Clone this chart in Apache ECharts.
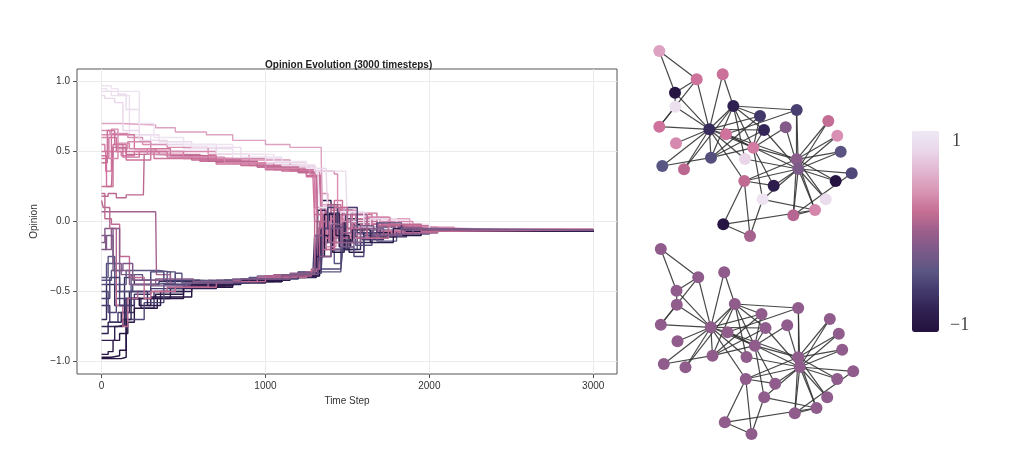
<!DOCTYPE html>
<html lang="en">
  <head>
    <meta charset="UTF-8" />
    <title>Opinion Evolution</title>
    <script src="https://cdn.jsdelivr.net/npm/echarts@6.0.0/dist/echarts.min.js"></script>
    <style>
      html, body { margin: 0; padding: 0; background: #fff; }
    </style>
  </head>
  <body>
    <div id="main" style="width: 1024px; height: 470px"></div>
    <script>
      // axis ticks
      var timeTicks = [0, 1000, 2000, 3000];
      var opinionTicks = [-1, -0.5, 0, 0.5, 1];

      // colour bar, bottom (-1) to top (+1)
      var colorStops = [
        "#24123f", "#2e2050", "#42386a", "#5a5683", "#7b5a88", "#9b5e8b",
        "#c66f94", "#d895b4", "#e2b6d0", "#e9d6e9", "#eee9f5"
      ];
      // colours used for nodes and lines, at these opinion values
      var toneValues = [-1, -0.8, -0.6, -0.4, -0.2, 0, 0.2, 0.5, 0.65, 0.75, 0.9, 1];
      var toneColors = ["#24123f", "#2e2050", "#42386a", "#5a5683", "#7b5a88", "#985d8c",
        "#c06a92", "#cf739c", "#d88fb3", "#e2b3cf", "#e9d6e9", "#eee9f5"];

      var consensusOpinion = -0.06;

      // node layout (karate club order), same layout for both networks
      var nodeX = [69.3, 93.3, 113.3, 71, 35.3, 56.7, 35, 120, 86, 145.7, 19.3, 36, 22.3, 124, 188.3, 197.3, 19.3,
        82.7, 200.7, 105, 195.7, 44, 185.7, 175, 110, 83.3, 211.7, 122.7, 133.7, 153.3, 156.7, 104.3, 156.7, 158.3];
      var nodeY = [89.3, 66, 107.7, 117.7, 66.7, 39.3, 52.7, 76, 94.3, 87.3, 86.7, 103.3, 126, 90, 81, 95.7, 11,
        34.3, 111.7, 119, 141, 129.3, 159.3, 170, 196, 184.3, 133.3, 159.3, 145.7, 175.3, 70, 141, 119.3, 129];

      var edges = [
        [0,1],[0,2],[0,3],[0,4],[0,5],[0,6],[0,7],[0,8],[0,10],[0,11],[0,12],[0,13],[0,17],[0,19],[0,21],[0,31],
        [1,2],[1,3],[1,7],[1,13],[1,17],[1,19],[1,21],[1,30],
        [2,3],[2,7],[2,8],[2,9],[2,13],[2,27],[2,28],[2,32],
        [3,7],[3,12],[3,13],[4,6],[4,10],[5,6],[5,10],[5,16],[6,16],
        [8,30],[8,32],[8,33],[9,33],[13,33],[14,32],[14,33],[15,32],[15,33],
        [18,32],[18,33],[19,33],[20,32],[20,33],[22,32],[22,33],
        [23,25],[23,27],[23,29],[23,32],[23,33],[24,25],[24,27],[24,31],[25,31],
        [26,29],[26,33],[27,33],[28,31],[28,33],[29,32],[29,33],[30,32],[30,33],
        [31,32],[31,33],[32,33]
      ];

      // opinion of each node over time: [timestep, opinion] where it changes
      var opinionPaths = [
        [[0,-0.7],[30,-0.45],[80,-0.6],[140,-0.4],[200,-0.45],[350,-0.43],[600,-0.44],[850,-0.41],[1100,-0.38],[1300,-0.35],[1320,-0.1],[1360,0.1],[1420,-0.2],[1500,0.02],[1600,-0.1],[1750,-0.03],[1950,-0.07],[2150,-0.06],[3000,-0.06]],
        [[0,-0.8],[40,-0.72],[120,-0.65],[170,-0.5],[280,-0.55],[420,-0.48],[700,-0.44],[1000,-0.4],[1250,-0.36],[1330,-0.34],[1340,0.15],[1400,-0.05],[1450,0.08],[1530,-0.15],[1650,-0.04],[1820,-0.08],[2000,-0.06],[3000,-0.06]],
        [[0,0.55],[20,0.5],[120,0.47],[200,0.5],[350,0.48],[600,0.44],[900,0.4],[1150,0.36],[1280,0.34],[1300,0.1],[1360,-0.12],[1420,0.02],[1480,-0.08],[1600,-0.02],[1750,-0.07],[1950,-0.05],[2150,-0.06],[3000,-0.06]],
        [[0,-0.45],[30,-0.3],[90,-0.5],[180,-0.38],[250,-0.42],[400,-0.36],[450,-0.45],[700,-0.42],[1000,-0.39],[1300,-0.35],[1310,-0.2],[1370,0.0],[1430,-0.15],[1500,-0.05],[1650,-0.1],[1800,-0.05],[2000,-0.06],[3000,-0.06]],
        [[0,0.95],[30,0.93],[60,0.9],[170,0.62],[300,0.55],[500,0.52],[800,0.45],[1100,0.39],[1300,0.34],[1345,0.05],[1400,-0.05],[1500,0.04],[1620,-0.04],[1800,-0.03],[2000,-0.06],[3000,-0.06]],
        [[0,0.45],[40,0.6],[90,0.5],[150,0.44],[300,0.52],[420,0.47],[700,0.42],[1000,0.38],[1250,0.33],[1310,0.3],[1320,-0.15],[1380,0.1],[1450,-0.1],[1550,0.02],[1700,-0.09],[1900,-0.05],[2100,-0.06],[3000,-0.06]],
        [[0,-0.97],[60,-0.96],[110,-0.92],[150,-0.6],[200,-0.55],[330,-0.52],[500,-0.46],[800,-0.43],[1100,-0.39],[1320,-0.35],[1330,-0.15],[1380,0.05],[1450,-0.18],[1520,-0.02],[1640,-0.11],[1800,-0.05],[2000,-0.065],[3000,-0.06]],
        [[0,-0.6],[50,-0.72],[100,-0.65],[200,-0.52],[300,-0.48],[500,-0.46],[750,-0.42],[1050,-0.39],[1290,-0.35],[1300,-0.1],[1350,0.05],[1410,-0.2],[1480,-0.05],[1590,-0.13],[1720,-0.04],[1900,-0.07],[3000,-0.06]],
        [[0,0.5],[25,0.36],[60,0.62],[200,0.52],[330,0.5],[500,0.45],[800,0.42],[1050,0.37],[1300,0.33],[1340,0.32],[1350,-0.2],[1420,0.15],[1470,-0.05],[1560,0.06],[1680,-0.1],[1850,-0.04],[2050,-0.07],[2200,-0.06],[3000,-0.06]],
        [[0,-0.15],[20,-0.05],[70,-0.3],[120,-0.38],[200,-0.42],[400,-0.45],[650,-0.42],[950,-0.39],[1200,-0.36],[1310,-0.35],[1320,-0.05],[1400,-0.2],[1470,0.0],[1550,-0.1],[1700,-0.05],[1900,-0.065],[3000,-0.06]],
        [[0,0.47],[30,0.25],[70,0.55],[150,0.5],[320,0.45],[600,0.43],[950,0.39],[1200,0.35],[1290,0.31],[1300,0.0],[1350,-0.25],[1400,0.05],[1500,-0.1],[1650,-0.02],[1800,-0.08],[2000,-0.055],[3000,-0.06]],
        [[0,0.62],[60,0.66],[100,0.52],[160,0.57],[300,0.5],[450,0.5],[700,0.45],[1000,0.4],[1200,0.36],[1310,0.35],[1330,0.2],[1380,-0.1],[1450,0.08],[1550,-0.06],[1700,0.0],[1900,-0.07],[2100,-0.06],[3000,-0.06]],
        [[0,-0.4],[40,-0.25],[80,-0.45],[150,-0.35],[350,-0.36],[420,-0.42],[600,-0.43],[900,-0.4],[1200,-0.36],[1460,-0.34],[1470,-0.2],[1560,-0.1],[1680,-0.14],[1800,-0.07],[2000,-0.06],[3000,-0.06]],
        [[0,-0.75],[100,-0.74],[140,-0.55],[240,-0.62],[320,-0.5],[500,-0.47],[750,-0.43],[1050,-0.4],[1310,-0.36],[1320,0.08],[1370,-0.12],[1430,0.05],[1490,-0.2],[1580,-0.05],[1700,-0.11],[1860,-0.06],[3000,-0.06]],
        [[0,0.25],[60,0.24],[70,0.53],[150,0.48],[300,0.47],[550,0.44],[850,0.4],[1100,0.36],[1290,0.33],[1335,0.31],[1340,-0.12],[1400,0.02],[1480,-0.1],[1580,-0.02],[1720,-0.08],[1900,-0.055],[3000,-0.06]],
        [[0,0.65],[50,0.63],[160,0.6],[250,0.55],[400,0.53],[650,0.48],[900,0.44],[1150,0.4],[1300,0.36],[1420,0.34],[1440,0.0],[1500,-0.08],[1600,0.03],[1750,-0.05],[1950,-0.06],[3000,-0.06]],
        [[0,0.7],[120,0.69],[330,0.67],[450,0.64],[640,0.62],[800,0.58],[1000,0.55],[1150,0.53],[1340,0.49],[1345,0.12],[1400,-0.08],[1480,0.1],[1560,-0.05],[1700,0.02],[1880,-0.06],[3000,-0.06]],
        [[0,0.42],[35,0.65],[80,0.55],[130,0.46],[230,0.5],[400,0.46],[700,0.41],[1000,0.37],[1250,0.32],[1330,0.3],[1340,-0.05],[1400,0.12],[1460,-0.15],[1530,0.05],[1650,-0.08],[1800,-0.03],[2000,-0.06],[3000,-0.06]],
        [[0,-0.42],[60,-0.35],[110,-0.5],[190,-0.45],[300,-0.44],[450,-0.37],[490,-0.44],[750,-0.42],[1000,-0.39],[1300,-0.35],[1340,-0.34],[1350,-0.15],[1420,-0.3],[1460,-0.08],[1550,-0.17],[1650,-0.06],[1800,-0.09],[2000,-0.06],[3000,-0.06]],
        [[0,0.9],[20,0.88],[80,0.85],[130,0.65],[230,0.58],[400,0.55],[700,0.48],[1000,0.42],[1250,0.38],[1370,0.36],[1380,0.05],[1430,-0.1],[1520,0.06],[1620,-0.04],[1780,-0.07],[1950,-0.05],[2150,-0.06],[3000,-0.06]],
        [[0,-0.98],[120,-0.97],[150,-0.55],[230,-0.6],[300,-0.54],[550,-0.46],[800,-0.43],[1100,-0.39],[1330,-0.35],[1340,-0.05],[1410,-0.22],[1480,0.0],[1560,-0.12],[1680,-0.04],[1850,-0.07],[3000,-0.06]],
        [[0,0.18],[40,0.2],[90,0.17],[150,0.19],[255,0.2],[260,0.48],[400,0.47],[650,0.43],[950,0.39],[1200,0.35],[1300,0.32],[1315,-0.1],[1370,0.08],[1440,-0.12],[1540,0.0],[1680,-0.07],[1850,-0.05],[2050,-0.06],[3000,-0.06]],
        [[0,0.93],[100,0.91],[150,0.8],[230,0.62],[350,0.57],[550,0.53],[850,0.46],[1100,0.4],[1300,0.36],[1490,0.33],[1500,0.0],[1560,-0.1],[1640,0.02],[1800,-0.05],[2000,-0.06],[3000,-0.06]],
        [[0,0.6],[45,0.45],[100,0.56],[170,0.52],[280,0.48],[500,0.46],[750,0.42],[1000,0.38],[1270,0.34],[1300,0.33],[1310,0.05],[1370,-0.18],[1430,0.0],[1520,-0.12],[1620,0.03],[1760,-0.06],[1950,-0.04],[2150,-0.06],[3000,-0.06]],
        [[0,0.07],[330,0.08],[335,-0.38],[420,-0.45],[550,-0.44],[800,-0.42],[1050,-0.38],[1300,-0.35],[1320,-0.05],[1380,0.12],[1440,-0.08],[1520,0.05],[1620,-0.1],[1780,-0.04],[1950,-0.07],[2100,-0.06],[3000,-0.06]],
        [[0,-0.95],[40,-0.93],[70,-0.85],[110,-0.8],[160,-0.72],[200,-0.62],[340,-0.55],[500,-0.47],[800,-0.43],[1100,-0.39],[1300,-0.35],[1310,-0.25],[1360,0.05],[1430,-0.1],[1510,-0.22],[1600,-0.08],[1760,-0.1],[1950,-0.06],[3000,-0.06]],
        [[0,-0.5],[40,-0.65],[90,-0.55],[150,-0.7],[260,-0.58],[380,-0.45],[600,-0.44],[900,-0.41],[1200,-0.37],[1300,-0.34],[1460,-0.33],[1470,-0.18],[1540,-0.25],[1600,-0.1],[1700,-0.05],[1850,-0.08],[2050,-0.06],[3000,-0.06]],
        [[0,0.97],[60,0.95],[100,0.93],[230,0.7],[320,0.6],[500,0.55],[800,0.48],[1050,0.43],[1250,0.38],[1320,0.34],[1330,0.1],[1390,-0.02],[1460,0.07],[1600,-0.05],[1800,-0.02],[2000,-0.06],[3000,-0.06]],
        [[0,-0.85],[80,-0.75],[130,-0.7],[180,-0.55],[280,-0.6],[360,-0.5],[550,-0.45],[850,-0.42],[1150,-0.38],[1320,-0.35],[1330,-0.1],[1390,0.06],[1450,-0.14],[1530,-0.06],[1640,-0.15],[1780,-0.05],[1960,-0.07],[3000,-0.06]],
        [[0,0.15],[10,0.1],[50,-0.05],[90,-0.6],[130,-0.75],[160,-0.55],[220,-0.5],[400,-0.47],[650,-0.43],[950,-0.4],[1250,-0.36],[1310,-0.34],[1330,0.0],[1390,-0.15],[1460,0.05],[1560,-0.12],[1680,-0.03],[1850,-0.08],[2050,-0.06],[3000,-0.06]],
        [[0,-0.55],[50,-0.4],[110,-0.6],[180,-0.5],[300,-0.36],[380,-0.42],[600,-0.44],[900,-0.41],[1200,-0.37],[1340,-0.33],[1345,-0.05],[1380,0.1],[1440,-0.04],[1500,0.1],[1560,-0.08],[1680,-0.01],[1830,-0.06],[3000,-0.06]],
        [[0,0.2],[20,0.02],[60,-0.02],[110,-0.25],[170,-0.4],[260,-0.55],[300,-0.5],[450,-0.47],[700,-0.43],[1000,-0.39],[1280,-0.34],[1300,0.05],[1350,-0.2],[1420,0.1],[1500,-0.05],[1620,-0.12],[1750,-0.02],[1950,-0.07],[2150,-0.06],[3000,-0.06]],
        [[0,-0.1],[25,-0.2],[60,-0.05],[110,-0.35],[170,-0.45],[330,-0.41],[560,-0.43],[850,-0.41],[1150,-0.37],[1300,-0.34],[1310,-0.1],[1350,-0.25],[1400,-0.02],[1470,-0.15],[1580,-0.05],[1720,-0.09],[1900,-0.06],[3000,-0.06]],
        [[0,-0.2],[30,-0.1],[70,-0.35],[130,-0.3],[190,-0.42],[300,-0.46],[520,-0.44],[800,-0.41],[1100,-0.38],[1320,-0.35],[1330,-0.25],[1400,-0.05],[1460,-0.18],[1540,-0.03],[1660,-0.1],[1830,-0.05],[2020,-0.06],[3000,-0.06]]
      ];

      // colour for an opinion value
      function tone(v) {
        for (var k = 1; k < toneValues.length; k++) {
          if (v <= toneValues[k]) {
            var f = (v - toneValues[k - 1]) / (toneValues[k] - toneValues[k - 1]);
            return echarts.color.lerp(f, [toneColors[k - 1], toneColors[k]]);
          }
        }
        return toneColors[toneColors.length - 1];
      }

      var initOpinion = opinionPaths.map(function (p) {
        return p[0][1];
      });

      var chart = echarts.init(document.getElementById("main"));

      var font = "Liberation Sans";
      var series = [];

      opinionPaths.forEach(function (path, i) {
        series.push({
          type: "line",
          step: "end",
          data: path,
          showSymbol: false,
          silent: true,
          xAxisIndex: 0,
          yAxisIndex: 0,
          lineStyle: { color: tone(initOpinion[i]), width: 1.4 },
        });
      });

      function links() {
        return edges.map(function (e) {
          return { source: e[0], target: e[1] };
        });
      }

      // network coloured by initial opinion
      series.push({
        type: "graph",
        coordinateSystem: "cartesian2d",
        xAxisIndex: 1,
        yAxisIndex: 1,
        silent: true,
        symbolSize: 12,
        data: nodeX.map(function (x, i) {
          return { value: [x, nodeY[i]], itemStyle: { color: tone(initOpinion[i]) } };
        }),
        links: links(),
        lineStyle: { color: "#333", width: 1.2, opacity: 0.9 },
      });

      // network after consensus
      series.push({
        type: "graph",
        coordinateSystem: "cartesian2d",
        xAxisIndex: 2,
        yAxisIndex: 2,
        silent: true,
        symbolSize: 12,
        data: nodeX.map(function (x, i) {
          return { value: [x, nodeY[i]], itemStyle: { color: tone(consensusOpinion) } };
        }),
        links: links(),
        lineStyle: { color: "#333", width: 1.2, opacity: 0.9 },
      });

      // empty series the colour bar is attached to
      series.push({ type: "scatter", data: [], xAxisIndex: 0, yAxisIndex: 0 });

      var netAxis = function (idx, max, inverse) {
        return { gridIndex: idx, type: "value", min: 0, max: max, show: false, inverse: inverse };
      };

      var option = {
        animation: false,
        backgroundColor: "#fff",
        textStyle: { fontFamily: font },
        title: {
          text: "Opinion Evolution (3000 timesteps)",
          left: 260,
          top: 55,
          textStyle: { fontSize: 10, fontWeight: "bold", color: "#222", fontFamily: font },
        },
        grid: [
          { left: 77, top: 69, width: 540, height: 305, show: true, borderColor: "#555", borderWidth: 1 },
          { left: 640, top: 40, width: 230, height: 210 },
          { left: 641.5, top: 238, width: 230, height: 206 },
        ],
        xAxis: [
          {
            gridIndex: 0,
            type: "value",
            min: -150,
            max: 3145,
            name: "Time Step",
            nameLocation: "middle",
            nameGap: 22,
            nameTextStyle: { fontSize: 10, color: "#333" },
            axisLine: { show: false, onZero: false },
            axisTick: { show: true, inside: false, length: 4, customValues: timeTicks, lineStyle: { color: "#555" } },
            axisLabel: {
              customValues: timeTicks,
              fontSize: 10,
              color: "#333",
              margin: 7,
              formatter: function (v) {
                return String(v);
              },
            },
            splitLine: { show: true, lineStyle: { color: "#ebebeb" } },
          },
          netAxis(1, 230, false),
          netAxis(2, 230, false),
        ],
        yAxis: [
          {
            gridIndex: 0,
            type: "value",
            min: -1.09,
            max: 1.09,
            name: "Opinion",
            nameLocation: "middle",
            nameGap: 26,
            nameTextStyle: { fontSize: 10, color: "#333" },
            axisLine: { show: false, onZero: false },
            axisTick: { show: true, inside: false, length: 4, customValues: opinionTicks, lineStyle: { color: "#555" } },
            axisLabel: {
              customValues: opinionTicks,
              fontSize: 10,
              color: "#333",
              margin: 7,
              formatter: function (v) {
                return v.toFixed(1).replace("-", "\u2212");
              },
            },
            splitLine: { show: true, lineStyle: { color: "#ebebeb" } },
          },
          netAxis(1, 210, true),
          netAxis(2, 206, true),
        ],
        visualMap: {
          type: "continuous",
          min: -1,
          max: 1,
          seriesIndex: series.length - 1,
          orient: "vertical",
          left: 912,
          top: 131,
          padding: 0,
          itemWidth: 27,
          itemHeight: 201,
          calculable: false,
          hoverLink: false,
          inRange: { color: colorStops },
        },
        graphic: [
          { type: "text", left: 952, top: 132, style: { text: "1", font: "18px 'Liberation Serif'", fill: "#444" } },
          { type: "text", left: 950, top: 316, style: { text: "\u22121", font: "18px 'Liberation Serif'", fill: "#444" } },
        ],
        series: series,
      };

      chart.setOption(option);
    </script>
  </body>
</html>
